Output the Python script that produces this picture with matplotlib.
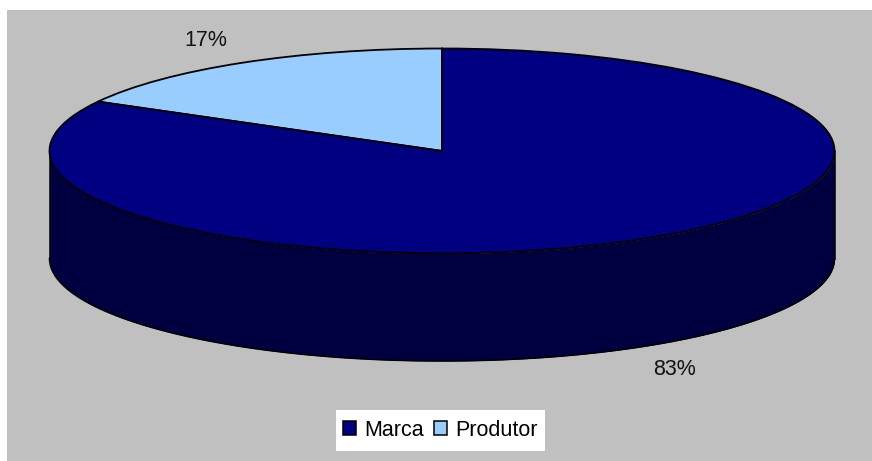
import numpy as np
import matplotlib
matplotlib.use('Agg')
import matplotlib.pyplot as plt
from matplotlib.patches import Patch, Rectangle

# chart values
labels = ['Produtor', 'Marca']
values = [17, 83]
colors = ['#99CCFF', '#000080']
side_color = '#000040'
depth = 1.05  # thickness of the pie, in units of the short radius

W, H = 872, 461
plt.rcParams['font.family'] = ['Liberation Sans', 'DejaVu Sans']

fig = plt.figure(figsize=(W / 100, H / 100), dpi=100, facecolor='white')

# grey chart area, the image has a small white margin top and left
fig.add_artist(Rectangle((7 / W, 0), (W - 7) / W, (H - 10) / H, zorder=-2,
                         transform=fig.transFigure, facecolor='#C0C0C0', edgecolor='none'))
# white box behind the legend
fig.add_artist(Rectangle((336 / W, 1 - 451 / H), 209 / W, 41 / H, zorder=-1,
                         transform=fig.transFigure, facecolor='white', edgecolor='none'))

# axes covers the squashed pie plus its side
left, right, top, bottom = 49.5, 834.5, 48.5, 361
ax = fig.add_axes([left / W, 1 - bottom / H, (right - left) / W, (bottom - top) / H])
ax.patch.set_alpha(0)

# side wall first, only the front half of the ellipse shows
t = np.linspace(np.pi, 2 * np.pi, 400)
ax.fill_between(np.cos(t), np.sin(t) - depth, np.sin(t), color=side_color, lw=0, zorder=1)
ax.plot(np.cos(t), np.sin(t) - depth, color='black', lw=1.1, zorder=2, clip_on=False)
ax.plot([-1, -1], [0, -depth], color='black', lw=1.1, zorder=2, clip_on=False)
ax.plot([1, 1], [0, -depth], color='black', lw=1.1, zorder=2, clip_on=False)

wedges, _ = ax.pie(values, colors=colors, startangle=90, counterclock=True, radius=1,
                   wedgeprops={'edgecolor': 'black', 'linewidth': 1.3, 'zorder': 3})
for w in wedges:
    w.set_clip_on(False)

# pie() makes the axes equal, undo that so the circle flattens to the ellipse
ax.set_aspect('auto')
ax.set_xlim(-1, 1)
ax.set_ylim(-1 - depth, 1)
ax.axis('off')

# percent labels
fig.text(206 / W, 1 - 40 / H, '%d%%' % values[0], fontsize=15.5, color='#111111', ha='center', va='center')
fig.text(674.5 / W, 1 - 369 / H, '%d%%' % values[1], fontsize=15.5, color='#111111', ha='center', va='center')

# legend
handles = [Patch(facecolor=colors[1], edgecolor='black', linewidth=1.1, label=labels[1]),
           Patch(facecolor=colors[0], edgecolor='black', linewidth=1.1, label=labels[0])]
fig.legend(handles=handles, loc='center', bbox_to_anchor=(440.5 / W, 1 - 430.5 / H), ncol=2,
           fontsize=15.5, frameon=False, handlelength=0.62, handleheight=0.62, handletextpad=0.38,
           columnspacing=0.45, borderpad=0.55, borderaxespad=0)

fig.savefig('out.png', dpi=100, facecolor=fig.get_facecolor())
